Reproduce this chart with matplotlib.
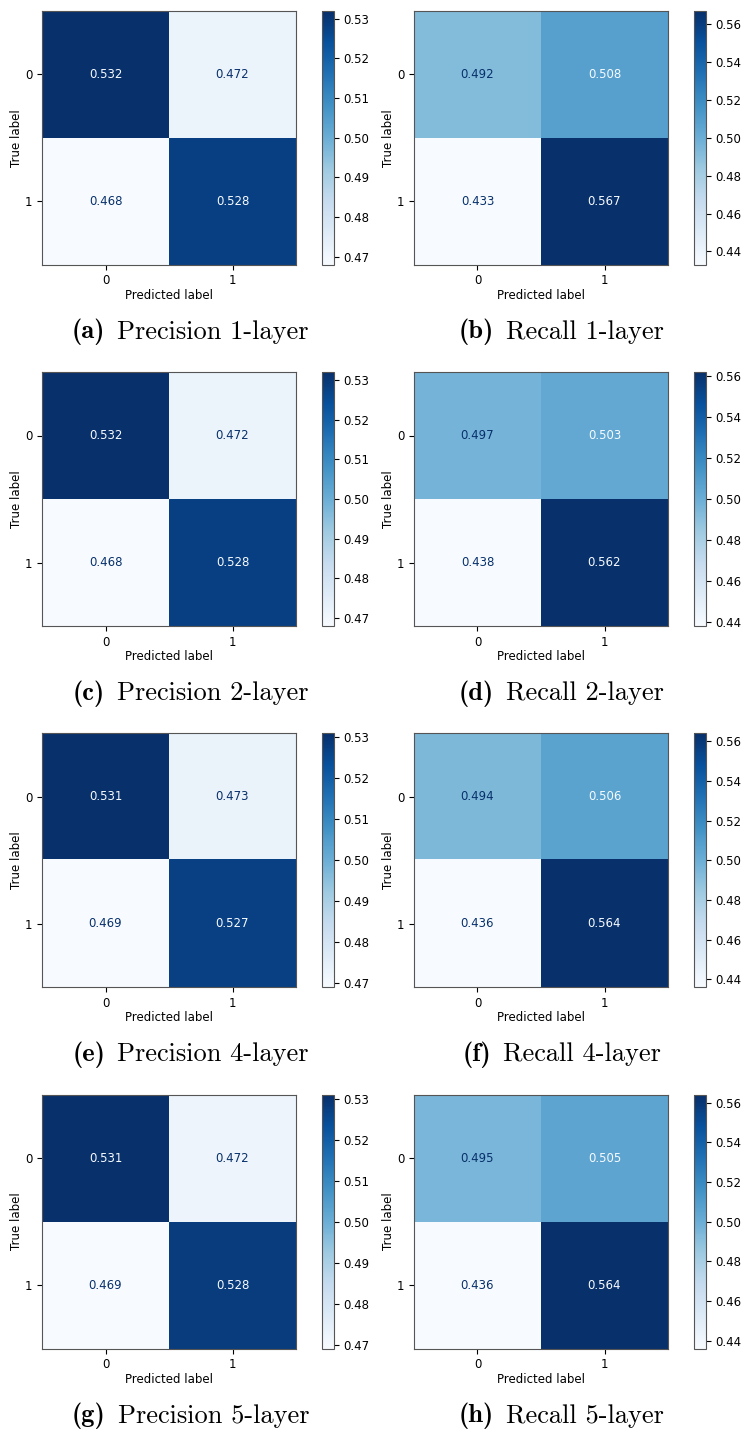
import numpy as np
import matplotlib
matplotlib.use("Agg")
import matplotlib.pyplot as plt

# confusion matrix values (rows = true label, cols = predicted label)
prec_1 = [[0.532, 0.472], [0.468, 0.528]]
rec_1 = [[0.492, 0.508], [0.433, 0.567]]
prec_2 = [[0.532, 0.472], [0.468, 0.528]]
rec_2 = [[0.497, 0.503], [0.438, 0.562]]
prec_4 = [[0.531, 0.473], [0.469, 0.527]]
rec_4 = [[0.494, 0.506], [0.436, 0.564]]
prec_5 = [[0.531, 0.472], [0.469, 0.528]]
rec_5 = [[0.495, 0.505], [0.436, 0.564]]

matrices = [prec_1, rec_1, prec_2, rec_2, prec_4, rec_4, prec_5, rec_5]
letters = ['a', 'b', 'c', 'd', 'e', 'f', 'g', 'h']
titles = ['Precision 1-layer', 'Recall 1-layer', 'Precision 2-layer', 'Recall 2-layer',
          'Precision 4-layer', 'Recall 4-layer', 'Precision 5-layer', 'Recall 5-layer']
class_labels = ['0', '1']

W, H = 742, 1430
fig = plt.figure(figsize=(W / 100, H / 100), dpi=100)
renderer = fig.canvas.get_renderer()
cmap = plt.get_cmap('Blues')
fs = 8.5
cap_fs = 19

for k, cm in enumerate(matrices):
    cm = np.array(cm)
    row, col = divmod(k, 2)
    x0 = 42 + col * 372
    y0 = 10.7 + row * 361.3
    ax = fig.add_axes([x0 / W, 1 - (y0 + 254) / H, 254 / W, 254 / H])
    cax = fig.add_axes([(x0 + 280) / W, 1 - (y0 + 254) / H, 11.5 / W, 254 / H])

    im = ax.imshow(cm, cmap=cmap, interpolation='nearest', aspect='auto')
    vmin, vmax = cm.min(), cm.max()
    thresh = (vmin + vmax) / 2
    for i in range(2):
        for j in range(2):
            c = cmap(0.0) if cm[i, j] > thresh else cmap(1.0)
            ax.text(j, i, f"{cm[i, j]:.3f}", ha='center', va='center', color=c, fontsize=fs)

    ax.set_xticks([0, 1])
    ax.set_yticks([0, 1])
    ax.set_xticklabels(class_labels, fontsize=fs)
    ax.set_yticklabels(class_labels, fontsize=fs)
    ax.set_xlabel('Predicted label', fontsize=fs, labelpad=1)
    ax.set_ylabel('True label', fontsize=fs, labelpad=1)
    for s in ax.spines.values():
        s.set_color('#555555')

    cb = fig.colorbar(im, cax=cax)
    cb.ax.tick_params(labelsize=fs)
    cb.outline.set_edgecolor('#555555')

    # caption: bold "(x)" followed by roman title, centred under the panel
    cx = (0.25 if col == 0 else 0.75) * W + 5
    cy = 1 - (332 + row * 361.3) / H
    t1 = fig.text(0, cy, '(' + letters[k] + ')', ha='left', va='center',
                  fontsize=cap_fs, family='cmb10')
    t2 = fig.text(0, cy, titles[k], ha='left', va='center',
                  fontsize=cap_fs, family='cmr10')
    w1 = t1.get_window_extent(renderer).width
    w2 = t2.get_window_extent(renderer).width
    gap = 0.45 * cap_fs * 100 / 72
    start = cx - (w1 + gap + w2) / 2
    t1.set_x(start / W)
    t2.set_x((start + w1 + gap) / W)

fig.savefig('out.png', dpi=100)
